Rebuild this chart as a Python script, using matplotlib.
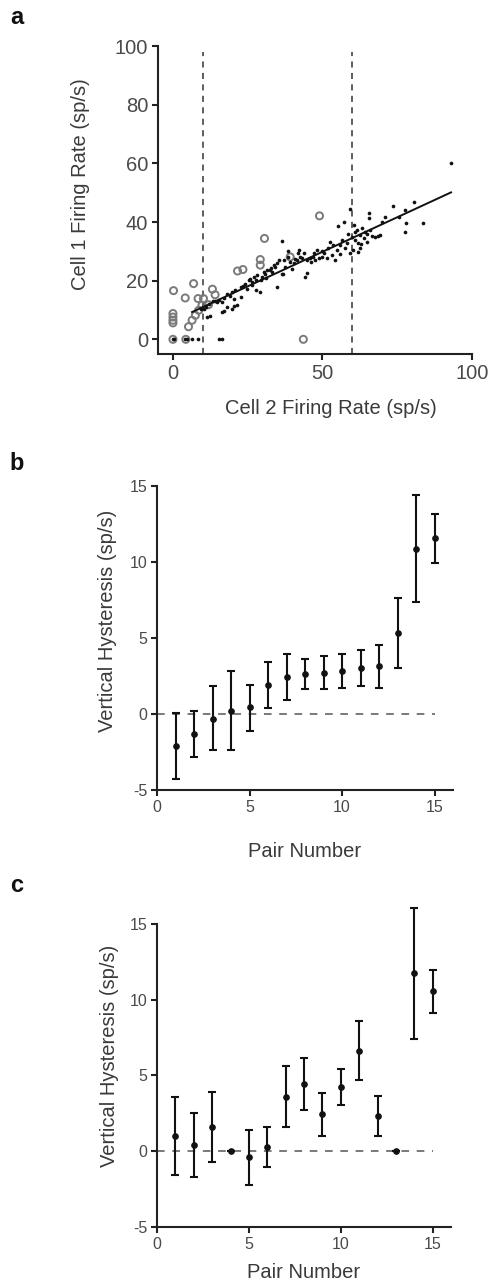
import matplotlib
matplotlib.use("Agg")
import matplotlib.pyplot as plt
import numpy as np

plt.rcParams['font.family'] = ['Liberation Sans', 'DejaVu Sans']
plt.rcParams['axes.unicode_minus'] = False

# ---------------- Panel a data ----------------
dot_x = [0, 0.4, 4.1, 4.8, 6.3, 8.5, 15.3, 16.5,
         11.4, 12.5, 16.4, 17.0, 18.1, 19.7, 20.5, 21.4, 16.4, 14.7, 15.3, 13.5, 11.0, 10.5, 9.5,
         18.1, 19.7, 20.3, 20.9, 22.6, 22.7, 24.2, 24.7, 25.3, 25.9, 26.4, 27.0, 27.9, 27.9, 28.1,
         29.2, 29.5, 29.8, 30.3, 30.9, 31.4, 32.5, 32.8, 33.7, 34.2, 34.8, 34.8, 35.3, 36.4, 36.5,
         36.8, 37.2, 37.5, 38.4, 38.5, 39.8, 40.4, 40.9, 41.5, 41.7, 42.0, 42.6, 43.7, 44.3, 44.8,
         44.8, 45.9, 46.8, 47.6, 48.1, 48.7, 49.8, 50.4, 51.5, 52.0, 52.6, 53.1, 54.2, 54.8, 55.1,
         55.9, 56.5, 57.1, 57.6, 58.2, 59.1, 59.3, 59.9, 60.2, 60.4, 61.0, 61.5, 61.8, 62.4, 62.6,
         63.2, 63.8, 64.3, 64.9, 65.7, 65.7, 66.0, 66.6, 67.7, 69.3, 71.0, 73.6, 75.5, 77.7, 77.7,
         78.0, 80.5, 83.6, 93.1,
         53.5, 56.0, 58.5, 60.8, 62.0, 63.0, 65.0, 68.5, 70.0, 50.0, 47.0, 46.0, 43.0, 39.0, 33.0,
         31.0, 26.5, 23.5, 19.0, 17.0, 14.0, 12.0]
dot_y = [0, 0, 0, 0, 0.2, 0, 0, 0,
         7.6, 7.9, 9.3, 9.6, 11.0, 10.2, 11.4, 11.8, 12.8, 12.8, 13.5, 13.0, 11.0, 10.5, 10.2,
         15.6, 16.2, 13.9, 16.7, 17.9, 14.5, 19.0, 17.3, 20.2, 20.4, 18.5, 21.3, 16.7, 20.2, 21.9,
         16.2, 20.2, 21.3, 23.0, 22.4, 23.6, 23.6, 24.4, 25.3, 24.7, 17.9, 25.9, 27.0, 33.6, 22.4,
         22.4, 27.0, 24.7, 30.2, 28.1, 24.1, 25.9, 27.5, 27.0, 29.3, 30.4, 28.1, 29.3, 21.3, 22.7,
         27.0, 27.6, 28.1, 27.0, 30.4, 27.6, 28.1, 29.3, 27.6, 31.0, 33.3, 28.7, 27.0, 30.4, 38.7,
         32.1, 33.8, 40.1, 31.0, 32.7, 44.3, 29.3, 35.0, 30.4, 39.0, 33.8, 37.2, 29.8, 31.0, 35.5,
         37.8, 34.4, 36.7, 33.3, 43.2, 41.5, 37.2, 35.2, 35.0, 35.5, 41.8, 45.6, 41.8, 44.1, 36.7,
         39.5, 46.7, 39.7, 60.0,
         32.0, 29.0, 36.0, 36.5, 33.0, 32.5, 35.8, 35.3, 40.0, 30.0, 29.5, 26.5, 27.6, 26.2, 23.0,
         21.0, 19.5, 18.3, 14.7, 14.0, 13.2, 12.2]

circ_x = [0, 0.2, 0, 0, 0, 0, 4.3, 4.1, 6.9, 8.4, 10.2, 13.2, 14.1, 9.7, 8.6, 7.5, 6.4, 5.2,
          11.9, 21.6, 23.4, 29.2, 29.2, 30.6, 39.2, 49.0, 43.6]
circ_y = [0, 16.6, 8.8, 7.6, 6.5, 5.6, 0, 14.1, 19.0, 13.9, 13.9, 17.1, 15.2, 11.6, 9.9, 8.2, 6.5, 4.3,
          11.8, 23.3, 23.8, 27.2, 25.3, 34.4, 28.1, 42.1, 0.0]

fit_x = [6.4, 93.0]
fit_y = [9.3, 50.1]
bounds_x = [10, 60]

# ---------------- Panel b data ----------------
pair_b = list(range(1, 16))
hyst_b = [-2.1, -1.3, -0.33, 0.2, 0.44, 1.92, 2.42, 2.62, 2.73, 2.82, 3.04, 3.13, 5.33, 10.86, 11.59]
hi_b = [0.09, 0.2, 1.81, 2.84, 1.92, 3.41, 3.92, 3.63, 3.83, 3.92, 4.23, 4.54, 7.64, 14.38, 13.19]
lo_b = [-4.3, -2.8, -2.4, -2.4, -1.1, 0.42, 0.93, 1.63, 1.63, 1.72, 1.83, 1.74, 3.04, 7.36, 9.96]

# ---------------- Panel c data ----------------
pair_c = list(range(1, 16))
hyst_c = [0.99, 0.4, 1.61, 0.0, -0.4, 0.29, 3.59, 4.43, 2.42, 4.23, 6.63, 2.31, 0.0, 11.76, 10.55]
hi_c = [3.59, 2.49, 3.9, 0.0, 1.37, 1.59, 5.62, 6.12, 3.81, 5.44, 8.57, 3.63, 0.0, 16.06, 11.96]
lo_c = [-1.6, -1.72, -0.7, 0.0, -2.2, -1.03, 1.59, 2.69, 0.99, 3.02, 4.71, 0.99, 0.0, 7.42, 9.14]

W, H = 492, 1288
fig = plt.figure(figsize=(W / 100, H / 100), dpi=100)

TXT = '#3a3a3a'
TCK = '#4a4a4a'


def ax_px(left, top, right, bottom):
    return fig.add_axes([left / W, 1 - bottom / H, (right - left) / W, (bottom - top) / H])


def style(ax, fs_tick):
    for s in ['top', 'right']:
        ax.spines[s].set_visible(False)
    for s in ['left', 'bottom']:
        ax.spines[s].set_linewidth(1.5)
        ax.spines[s].set_color('#222222')
    ax.tick_params(direction='out', length=4, width=1.5, color='#222222',
                   labelsize=fs_tick, labelcolor=TCK, pad=3)
    ax.patch.set_alpha(0)


# ---- Panel a ----
axa = ax_px(158, 46, 472, 354)
style(axa, 14.5)
axa.set_xlim(-5, 100)
axa.set_ylim(-5, 100)
axa.set_xticks([0, 50, 100])
axa.set_yticks([0, 20, 40, 60, 80, 100])
for bx in bounds_x:
    axa.plot([bx, bx], [-5, 98], ls=(0, (4, 3.5)), color='#333333', lw=1.1, zorder=1)
axa.scatter(circ_x, circ_y, s=26, facecolors='none', edgecolors='#7a7a7a', linewidths=1.4, zorder=2)
axa.scatter(dot_x, dot_y, s=7, color='#111111', linewidths=0, zorder=3)
axa.plot(fit_x, fit_y, color='#111111', lw=1.4, zorder=4)
axa.set_xlabel('Cell 2 Firing Rate (sp/s)', fontsize=14.5, color=TXT)
axa.set_ylabel('Cell 1 Firing Rate (sp/s)', fontsize=14.5, color=TXT)
axa.xaxis.set_label_coords(0.55, -0.145)
axa.yaxis.set_label_coords(-0.215, 0.55)


def hyst_panel(ax, pairs, vals, hi, lo, ytop):
    style(ax, 11.5)
    ax.set_xlim(0, 16)
    ax.set_ylim(-5, ytop)
    ax.spines['left'].set_bounds(-5, 15)
    ax.set_xticks([0, 5, 10, 15])
    ax.set_yticks([-5, 0, 5, 10, 15])
    ax.plot([0, 15], [0, 0], ls=(0, (5, 5)), color='#555555', lw=1.1, zorder=1)
    v = np.array(vals)
    yerr = np.vstack([v - np.array(lo), np.array(hi) - v])
    ax.errorbar(pairs, vals, yerr=yerr, fmt='o', ms=3.8, color='#111111',
                ecolor='#111111', elinewidth=1.5, capsize=3, capthick=1.5, zorder=3)
    ax.set_xlabel('Pair Number', fontsize=14.5, color=TXT)
    ax.set_ylabel('Vertical Hysteresis (sp/s)', fontsize=14.5, color=TXT)


# ---- Panel b ----
axb = ax_px(157, 486, 453, 790)
hyst_panel(axb, pair_b, hyst_b, hi_b, lo_b, 15)
axb.xaxis.set_label_coords(0.5, -0.17)
axb.yaxis.set_label_coords(-0.135, 0.555)

# ---- Panel c ----
axc = ax_px(157, 904, 451, 1227)
hyst_panel(axc, pair_c, hyst_c, hi_c, lo_c, 16.3)
axc.xaxis.set_label_coords(0.5, -0.11)
axc.yaxis.set_label_coords(-0.128, 0.53)

# panel letters
for letter, y in [('a', 17), ('b', 463), ('c', 885)]:
    fig.text(17 / W, 1 - y / H, letter, fontsize=17, fontweight='bold',
             ha='center', va='center', color='#111111')

fig.savefig('out.png', dpi=100, facecolor='white')
